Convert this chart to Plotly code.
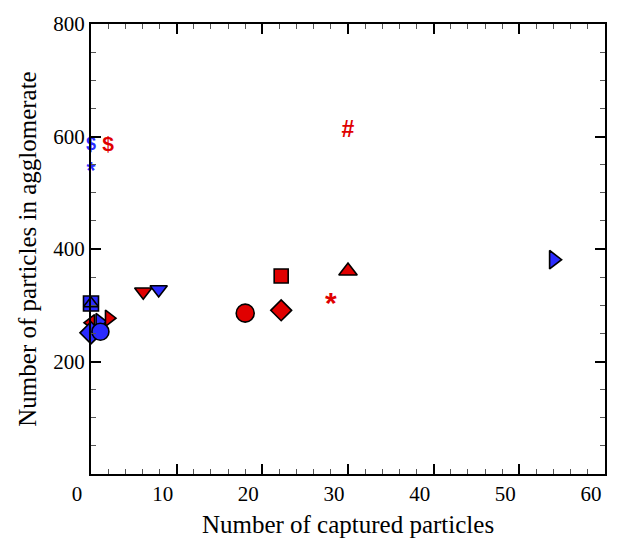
import plotly.graph_objects as go

RED = "#e00000"
BLUE = "#2b2bff"

# Symbol markers: captured particles vs. particles in agglomerate
mk_x = [0, 0, 0, 1, 2.1, 0, 1.1, 6.1, 7.9, 18, 22.2, 22.2, 30, 54]
mk_y = [303, 303, 269, 271, 277, 251, 253, 324, 328, 286, 291, 352, 361, 381]
mk_symbol = ["square", "triangle-up", "triangle-left", "triangle-right", "triangle-right",
             "diamond", "circle", "triangle-down", "triangle-down", "circle",
             "diamond", "square", "triangle-up", "triangle-right"]
mk_color = [BLUE, BLUE, RED, BLUE, RED, BLUE, BLUE, RED, BLUE, RED, RED, RED, RED, BLUE]
mk_size = [15, 13, 14, 14, 14, 17, 17, 15, 15, 18, 16, 14, 16, 16]

# Character markers
ch_x = [30, 2, 0, 28, 0]
ch_y = [610, 584, 584, 300, 534]
ch_text = ["#", "$", "$", "*", "*"]
ch_color = [RED, RED, BLUE, RED, BLUE]
ch_size = [23, 21, 18, 30, 23]

x_ticks = [0, 10, 20, 30, 40, 50, 60]
y_ticks = [200, 400, 600, 800]

fig = go.Figure()
fig.add_trace(go.Scatter(
    x=mk_x, y=mk_y, mode="markers", cliponaxis=False,
    marker=dict(symbol=mk_symbol, color=mk_color, size=mk_size, opacity=1,
                line=dict(color="black", width=1.6)),
))
fig.add_trace(go.Scatter(
    x=ch_x, y=ch_y, mode="text", text=ch_text, cliponaxis=False,
    textposition="middle center",
    textfont=dict(family="Liberation Sans", size=ch_size, color=ch_color, weight="bold"),
))

axis_common = dict(
    showgrid=False, zeroline=False, showline=True, linecolor="black", linewidth=2,
    mirror="ticks", ticks="inside", ticklen=10, tickwidth=2, tickcolor="black",
    tickfont=dict(family="Liberation Serif", size=21, color="black"),
)

fig.update_xaxes(
    range=[0, 60], tickvals=x_ticks, ticklabelshift=-14,
    minor=dict(dtick=2, tick0=0, ticks="inside", ticklen=5, tickwidth=1, tickcolor="#555"),
    title=dict(text="Number of captured particles",
               font=dict(family="Liberation Serif", size=25, color="black"), standoff=10),
    **axis_common,
)
fig.update_yaxes(
    range=[0, 800], tickvals=y_ticks,
    minor=dict(dtick=50, tick0=0, ticks="inside", ticklen=5, tickwidth=1, tickcolor="#555"),
    title=dict(text="Number of particles in agglomerate",
               font=dict(family="Liberation Serif", size=25, color="black"), standoff=10),
    **axis_common,
)

fig.update_layout(
    width=619, height=546, showlegend=False,
    paper_bgcolor="white", plot_bgcolor="white",
    margin=dict(l=91, r=14, t=18, b=69),
)

fig.write_html("out.html")
